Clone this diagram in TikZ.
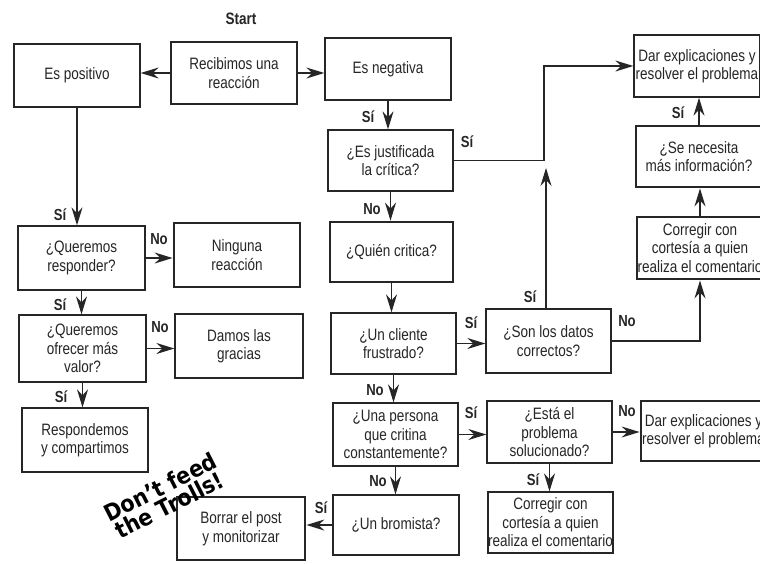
\documentclass[tikz,border=0pt]{standalone}
\usepackage{fontspec}
\setmainfont{Liberation Sans}[FakeStretch=0.82]
\newfontfamily\stampfont{DejaVu Sans}[FakeStretch=0.9]
\usetikzlibrary{arrows.meta}
\definecolor{ink}{HTML}{262626}

\begin{document}
\begin{tikzpicture}[x=1pt,y=-1pt,
  box/.style={draw=ink, line width=1.3pt, align=center, inner sep=0pt,
    minimum width=126pt, minimum height=62pt,
    font=\fontsize{16.5}{18.5}\selectfont, text=ink},
  heavy/.style={box, line width=2.8pt},
  flow/.style={draw=ink, line width=1.4pt,
    -{Stealth[length=18pt,width=11pt,inset=6pt]}},
  lbl/.style={font=\bfseries\fontsize{16}{18}\selectfont, text=ink},
]
\useasboundingbox (0,0) rectangle (760,563);
\fill[white] (0,0) rectangle (760,563);

% start
\node[lbl, font=\bfseries\fontsize{16.5}{18}\selectfont] (start) at (241,19) {Start};
\node[heavy] (rec) at (234,73) {Recibimos una\\reacción};

% positive branch
\node[box, minimum height=63pt] (pos) at (77,75.5) {Es positivo};
\node[box, minimum width=127pt, minimum height=64pt] (qr) at (81.5,258) {¿Queremos\\responder?};
\node[heavy, minimum height=64pt] (nin) at (237,255) {Ninguna\\reacción};
\node[box, minimum width=127pt, minimum height=67pt] (qo) at (82.5,348.5) {¿Queremos\\ofrecer más\\valor?};
\node[box, minimum width=128pt, minimum height=64pt] (dam) at (239,346) {Damos las\\gracias};
\node[box, minimum height=64pt] (resp) at (85,440) {Respondemos\\y compartimos};

% negative branch
\node[box] (neg) at (388,69) {Es negativa};
\node[box, minimum width=125pt, minimum height=61pt] (just) at (390.5,160.5) {¿Es justificada\\la crítica?};
\node[heavy, minimum width=123pt, minimum height=60pt] (quien) at (391.5,252) {¿Quién critica?};
\node[box, minimum width=125pt, minimum height=61pt] (clien) at (393.5,343.5) {¿Un cliente\\frustrado?};
\node[box, minimum width=125pt, minimum height=63pt] (pers) at (395.5,434.5) {¿Una persona\\que critina\\constantemente?};
\node[box, minimum height=60pt] (brom) at (396,525) {¿Un bromista?};
\node[heavy, minimum width=128pt, minimum height=63pt] (borr) at (241,528.5) {Borrar el post\\y monitorizar};

\node[box, minimum width=125pt, minimum height=64pt] (datos) at (548.5,341) {¿Son los datos\\correctos?};
\node[box, minimum width=125pt] (esta) at (549.5,432) {¿Está el\\problema\\solucionado?};
\node[box, minimum width=121pt, minimum height=61pt] (corr2) at (550.5,522.5) {Corregir con\\cortesía a quien\\realiza el comentario};
\node[heavy, minimum width=125pt, minimum height=60pt] (dar2) at (703.5,431) {Dar explicaciones y\\resolver el problema};

\node[box] (dar1) at (697,66) {Dar explicaciones y\\resolver el problema};
\node[heavy, minimum height=61pt] (nec) at (699,156.5) {¿Se necesita\\más información?};
\node[heavy] (corr1) at (700,248) {Corregir con\\cortesía a quien\\realiza el comentario};

\coordinate (jx) at (544,0);
\coordinate (up) at (546,168);

% connectors
\draw[flow] (rec.west) -- (rec.west -| pos.east);
\draw[flow] (rec.east) -- (rec.east -| neg.west);

\draw[flow] (pos.south) -- (pos.south |- qr.north);
\draw[flow] (qr.east) -- (qr.east -| nin.west);
\draw[flow] (qr.south) -- (qr.south |- qo.north);
\draw[flow] (qo.east) -- (qo.east -| dam.west);
\draw[flow] (qo.south) -- (qo.south |- resp.north);

\draw[flow] (neg.south) -- (neg.south |- just.north);
\draw[flow] (just.east) -- (just.east -| jx) |- (dar1.west);
\draw[flow] (just.south) -- (just.south |- quien.north);
\draw[flow] (quien.south) -- (quien.south |- clien.north);
\draw[flow] (clien.east) -- (clien.east -| datos.west);
\draw[flow] (clien.south) -- (clien.south |- pers.north);
\draw[flow] (datos.north -| up) -- (up);
\draw[flow] (datos.east) -| (corr1.south);
\draw[flow] (corr1.north) -- (corr1.north |- nec.south);
\draw[flow] (nec.north) -- (nec.north |- dar1.south);
\draw[flow] (pers.east) -- (pers.east -| esta.west);
\draw[flow] (esta.east) -- (esta.east -| dar2.west);
\draw[flow] (esta.south) -- (esta.south |- corr2.north);
\draw[flow] (pers.south) -- (pers.south |- brom.north);
\draw[flow] (brom.west) -- (brom.west -| borr.east);

% answer labels
\node[lbl] (l1) at (60,215) {Sí};
\node[lbl] (l2) at (159,239) {No};
\node[lbl] (l3) at (60,305) {Sí};
\node[lbl] (l4) at (160,327) {No};
\node[lbl] (l5) at (61,397) {Sí};
\node[lbl] (l6) at (368,117) {Sí};
\node[lbl] (l7) at (467,142) {Sí};
\node[lbl] (l8) at (372,209) {No};
\node[lbl] (l9) at (471,323) {Sí};
\node[lbl] (l10) at (375,390) {No};
\node[lbl] (l11) at (530,297) {Sí};
\node[lbl] (l12) at (627,321) {No};
\node[lbl] (l13) at (678,113) {Sí};
\node[lbl] (l14) at (471,413) {Sí};
\node[lbl] (l15) at (627,411) {No};
\node[lbl] (l16) at (533,480) {Sí};
\node[lbl] (l17) at (378,481) {No};
\node[lbl] (l18) at (321,508) {Sí};

% stamp
\node[font=\stampfont\bfseries\fontsize{23}{20}\selectfont, rotate=27,
  align=center, text=black, inner sep=0pt] (troll) at (165,496) {Don’t feed\\the Trolls!};
\end{tikzpicture}
\end{document}
